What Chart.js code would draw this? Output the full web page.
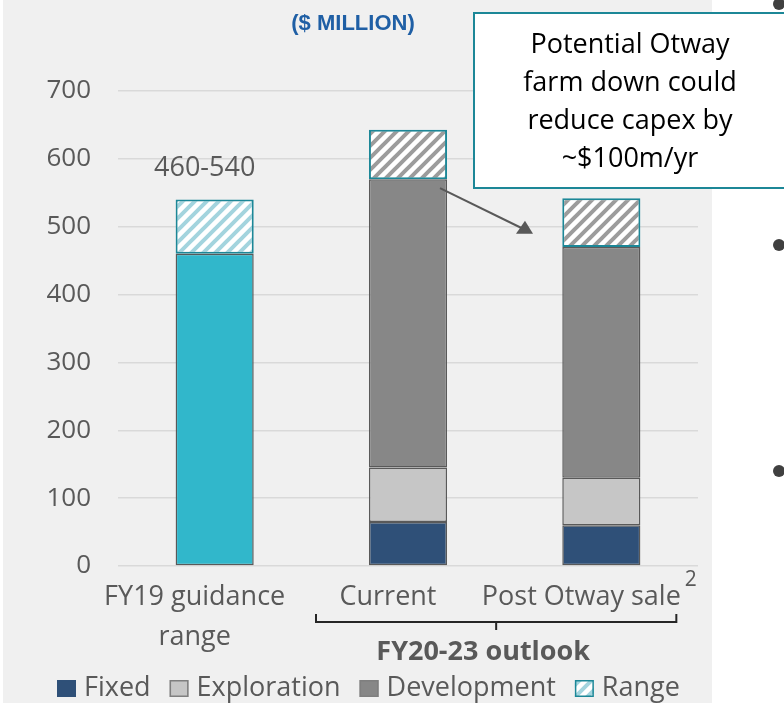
<!DOCTYPE html>
<html>
<head>
<meta charset="utf-8">
<script src="https://cdn.jsdelivr.net/npm/chart.js@4.4.0/dist/chart.umd.min.js"></script>
<style>
    html, body { margin: 0; padding: 0; background: #ffffff; overflow: hidden; }
</style>
</head>
<body>
<canvas id="chart" width="784" height="703"></canvas>
<script>
(() => {
    'use strict';

    const categories = [['FY19 guidance', 'range'], 'Current', 'Post Otway sale'];
    const guidanceBase = [460, null, null];
    const fixedCapex = [null, 65, 60];
    const explorationCapex = [null, 80, 70];
    const developmentCapex = [null, 425, 340];
    const rangeCapex = [80, 73, 72];
    const yTicks = [0, 100, 200, 300, 400, 500, 600, 700];
    const guidanceLabel = '460-540';
    const outlookLabel = 'FY20-23 outlook';
    const unitLabel = '($ MILLION)';
    const calloutLines = ['Potential Otway', 'farm down could', 'reduce capex by', '~$100m/yr'];

    const textGrey = '#595959';
    const font = '"Open Sans", "Noto Sans", sans-serif';

    const makeHatch = (stripe) => {
        const size = 12;
        const tile = document.createElement('canvas');
        tile.width = size;
        tile.height = size;
        const g = tile.getContext('2d');
        g.fillStyle = '#ffffff';
        g.fillRect(0, 0, size, size);
        g.strokeStyle = stripe;
        g.lineWidth = 4;
        g.beginPath();
        g.moveTo(-3, 3); g.lineTo(3, -3);
        g.moveTo(-1, size + 1); g.lineTo(size + 1, -1);
        g.moveTo(size - 3, size + 3); g.lineTo(size + 3, size - 3);
        g.stroke();
        return g.createPattern(tile, 'repeat');
    };

    const tealHatch = makeHatch('#a3d4de');
    const greyHatch = makeHatch('#9c9c9c');

    // legend entries (the teal guidance bar is not in the legend)
    const legendItems = [
        { text: 'Fixed', fill: '#2f5078', stroke: '#2f5078' },
        { text: 'Exploration', fill: '#c6c6c6', stroke: '#7f7f7f' },
        { text: 'Development', fill: '#878787', stroke: '#7f7f7f' },
        { text: 'Range', fill: tealHatch, stroke: '#1c8797' },
    ];

    const decorations = {
        id: 'capexDecorations',
        beforeDraw(chart) {
            const ctx = chart.ctx;
            ctx.save();
            ctx.fillStyle = '#ffffff';
            ctx.fillRect(0, 0, chart.width, chart.height);
            ctx.fillStyle = '#f0f0f0';
            ctx.fillRect(3, 0, 709, chart.height);
            ctx.restore();
        },
        afterDraw(chart) {
            const ctx = chart.ctx;
            const x = chart.scales.x;
            const y = chart.scales.y;
            ctx.save();

            // unit heading
            ctx.fillStyle = '#1f5fa5';
            ctx.font = `bold 22px "Liberation Sans", Arial, sans-serif`;
            ctx.textAlign = 'center';
            ctx.textBaseline = 'middle';
            ctx.fillText(unitLabel, 353, 24);

            // guidance range label
            ctx.fillStyle = textGrey;
            ctx.font = `27px ${font}`;
            ctx.fillText(guidanceLabel, x.getPixelForValue(0) - 10, y.getPixelForValue(540) - 31);

            // superscript on last category
            ctx.font = `27px ${font}`;
            const lastWidth = ctx.measureText(categories[2]).width;
            ctx.font = `21px ${font}`;
            ctx.textAlign = 'left';
            ctx.fillText('2', x.getPixelForValue(2) - 20 + lastWidth / 2 + 4, 580);

            // bracket under the outlook bars
            const left = x.getPixelForValue(1) - 92;
            const right = x.getPixelForValue(2) + 75;
            const mid = (left + right) / 2;
            ctx.strokeStyle = '#262626';
            ctx.lineWidth = 2;
            ctx.beginPath();
            ctx.moveTo(left, 614);
            ctx.lineTo(left, 622);
            ctx.lineTo(right, 622);
            ctx.lineTo(right, 614);
            ctx.moveTo(mid, 622);
            ctx.lineTo(mid, 630);
            ctx.stroke();

            ctx.fillStyle = textGrey;
            ctx.font = `bold 27px ${font}`;
            ctx.textAlign = 'center';
            ctx.fillText(outlookLabel, mid - 13, 652);

            // legend
            ctx.font = `27px ${font}`;
            ctx.textAlign = 'left';
            let cursor = 57;
            legendItems.forEach((item) => {
                ctx.fillStyle = item.fill;
                ctx.fillRect(cursor, 680, 19, 17);
                ctx.strokeStyle = item.stroke;
                ctx.lineWidth = 1.5;
                ctx.strokeRect(cursor + 0.75, 680.75, 17.5, 15.5);
                ctx.fillStyle = textGrey;
                ctx.fillText(item.text, cursor + 27, 688);
                cursor += 27 + ctx.measureText(item.text).width + 19;
            });

            // callout arrow
            const ax = x.getPixelForValue(1) + 32;
            const ay = y.getPixelForValue(557);
            const bx = x.getPixelForValue(1) + 115;
            const by = y.getPixelForValue(497);
            ctx.strokeStyle = '#595959';
            ctx.lineWidth = 2;
            ctx.beginPath();
            ctx.moveTo(ax, ay);
            ctx.lineTo(bx, by);
            ctx.stroke();
            ctx.fillStyle = '#595959';
            ctx.beginPath();
            ctx.moveTo(bx + 2, by - 8);
            ctx.lineTo(bx + 10, by + 5);
            ctx.lineTo(bx - 7, by + 5);
            ctx.closePath();
            ctx.fill();

            // callout box
            ctx.fillStyle = '#ffffff';
            ctx.fillRect(473, 12, 320, 176);
            ctx.strokeStyle = '#1c8797';
            ctx.lineWidth = 2;
            ctx.strokeRect(474, 13, 320, 175);
            ctx.fillStyle = '#000000';
            ctx.font = `27px ${font}`;
            ctx.textAlign = 'center';
            calloutLines.forEach((line, i) => {
                ctx.fillText(line, 630, 45 + i * 38);
            });

            // bullets of the neighbouring text column
            ctx.fillStyle = '#404040';
            [4, 245, 471].forEach((by2) => {
                ctx.beginPath();
                ctx.arc(779, by2, 6, 0, Math.PI * 2);
                ctx.fill();
            });

            ctx.restore();
        },
    };

    const segmentBorder = { borderColor: '#595959', borderWidth: 1.5 };

    new Chart(document.getElementById('chart'), {
        type: 'bar',
        data: {
            labels: categories,
            datasets: [
                { label: 'Guidance', data: guidanceBase, backgroundColor: '#31b7cb', ...segmentBorder },
                { label: 'Fixed', data: fixedCapex, backgroundColor: '#2f5078', ...segmentBorder },
                { label: 'Exploration', data: explorationCapex, backgroundColor: '#c6c6c6', ...segmentBorder },
                { label: 'Development', data: developmentCapex, backgroundColor: '#878787', ...segmentBorder },
                {
                    label: 'Range',
                    data: rangeCapex,
                    backgroundColor: [tealHatch, greyHatch, greyHatch],
                    borderColor: '#1c8797',
                    borderWidth: 2,
                },
            ],
        },
        plugins: [decorations],
        options: {
            responsive: false,
            animation: false,
            events: [],
            layout: {
                padding: { top: 91, left: 46, right: 86, bottom: 0 },
            },
            datasets: {
                bar: {
                    categoryPercentage: 0.404,
                    barPercentage: 1,
                    borderSkipped: false,
                },
            },
            scales: {
                x: {
                    stacked: true,
                    grid: { display: false },
                    border: { display: false },
                    ticks: {
                        color: textGrey,
                        font: { family: font, size: 27, lineHeight: 1.5 },
                        padding: 3,
                        labelOffset: -20,
                        autoSkip: false,
                        maxRotation: 0,
                    },
                    afterFit: (scale) => { scale.height = 137; },
                },
                y: {
                    stacked: true,
                    min: 0,
                    max: 700,
                    grid: { color: '#d9d9d9', lineWidth: 1.5, drawTicks: false },
                    border: { display: false },
                    ticks: {
                        color: textGrey,
                        font: { family: font, size: 26 },
                        padding: 27,
                    },
                    afterBuildTicks: (scale) => {
                        scale.ticks = yTicks.map((value) => ({ value }));
                    },
                    afterFit: (scale) => { scale.width = 72; },
                },
            },
            plugins: {
                legend: { display: false },
                tooltip: { enabled: false },
            },
        },
    });
})();
</script>
</body>
</html>
